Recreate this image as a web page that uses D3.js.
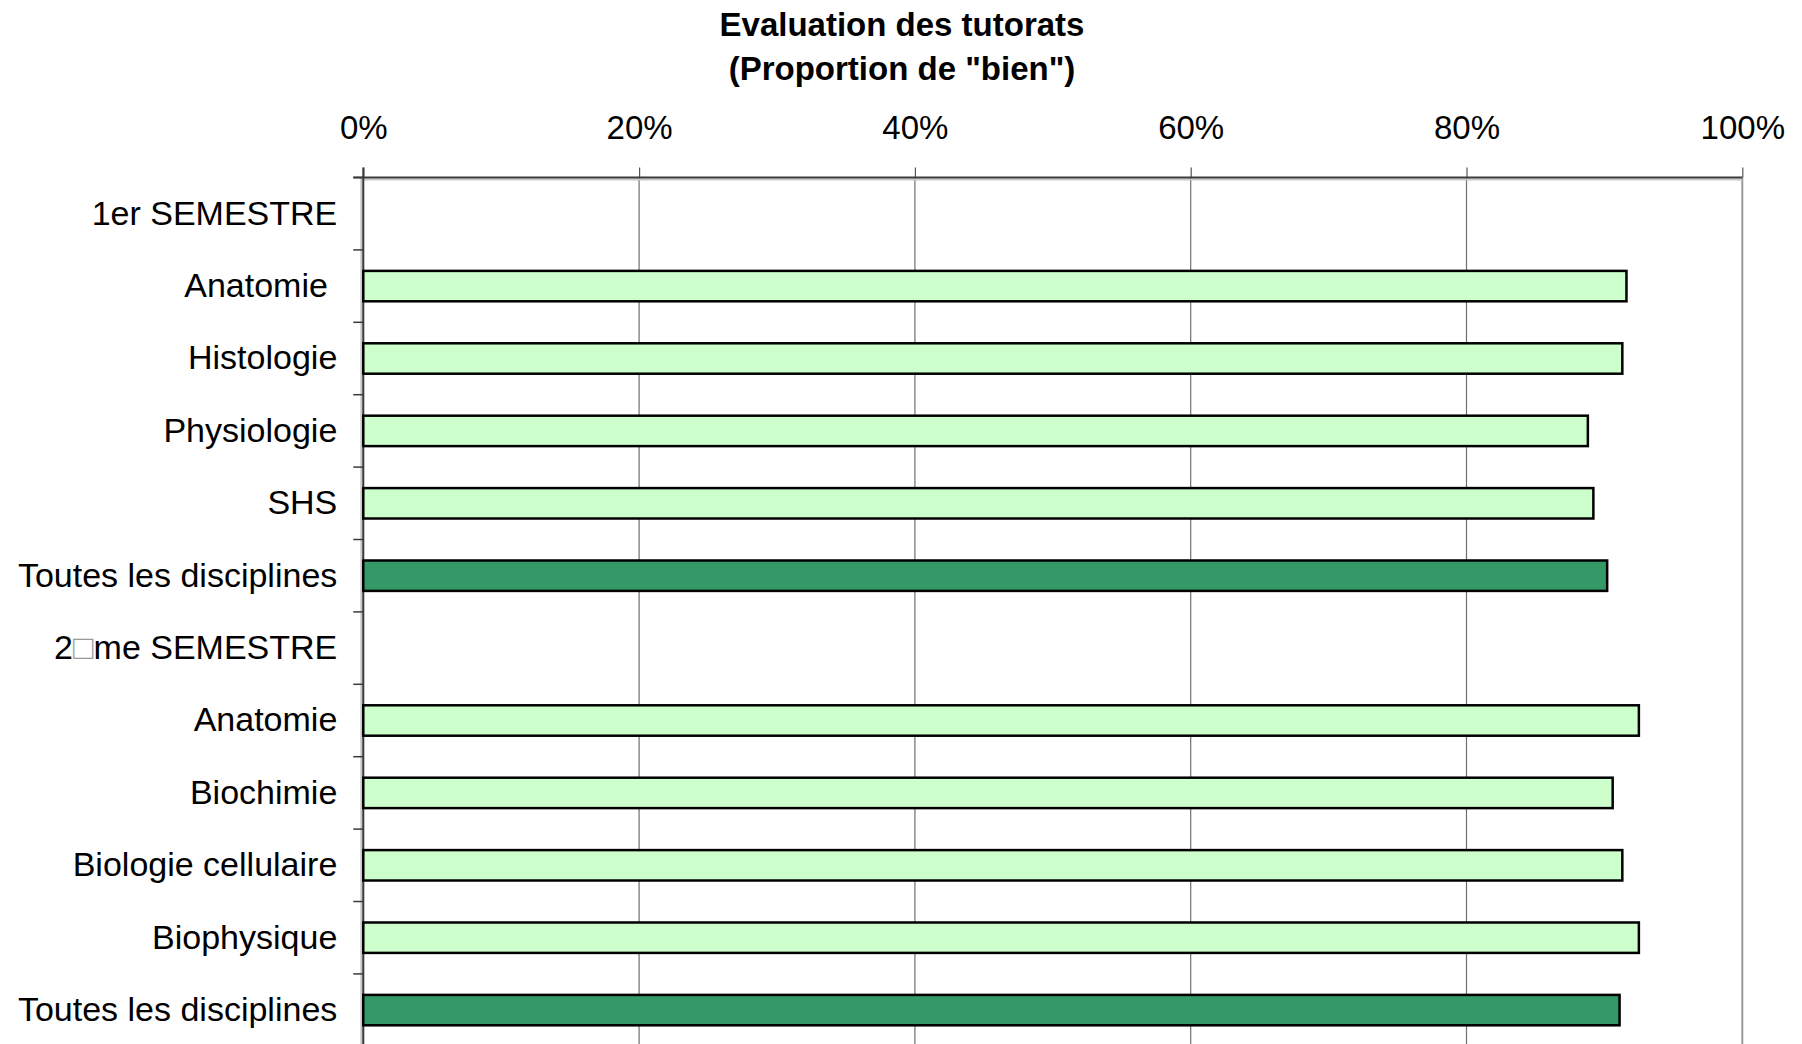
<!DOCTYPE html>
<html>
<head>
<meta charset="utf-8">
<script src="https://cdn.jsdelivr.net/npm/d3@7"></script>
<style>
  body { margin: 0; background: #fff; }
  text { font-family: "Liberation Sans", Arial, sans-serif; }
</style>
</head>
<body>
<svg width="1802" height="1044"></svg>
<script>
var svg = d3.select('svg');

// chart data
var categories = ['1er SEMESTRE', 'Anatomie ', 'Histologie', 'Physiologie', 'SHS',
  'Toutes les disciplines', '2\u25A1me SEMESTRE', 'Anatomie', 'Biochimie',
  'Biologie cellulaire', 'Biophysique', 'Toutes les disciplines'];
var values = [null, 0.916, 0.913, 0.888, 0.892, 0.902, null, 0.925, 0.906, 0.913, 0.925, 0.911];
var isTotal = [false, false, false, false, false, true, false, false, false, false, false, true];
var xTicks = [0, 0.2, 0.4, 0.6, 0.8, 1];
var titleLines = ['Evaluation des tutorats', '(Proportion de "bien")'];

var colors = {part: '#ccffcc', total: '#339966'};

var chartLeft = 363.3, chartRight = 1742.3, chartTop = 177.5, rowStep = 72.4;
var chartBottom = chartTop + rowStep * categories.length;

var xScale = d3.scaleLinear()
    .domain([0, 1])
    .range([chartLeft, chartRight]);

var yScale = d3.scaleBand()
    .domain(d3.range(categories.length))
    .range([chartTop, chartBottom])
    .paddingInner(0.58)
    .paddingOuter(0.29);

// title
svg.append('g')
    .selectAll('text')
    .data(titleLines)
    .enter()
    .append('text')
    .attr('x', 902)
    .attr('y', function(d, i) { return 36 + i * 44; })
    .attr('text-anchor', 'middle')
    .style('font-size', '33px')
    .style('font-weight', 'bold')
    .text(function(d) { return d; });

// vertical grid lines
svg.append('g')
    .selectAll('line')
    .data(xTicks)
    .enter()
    .append('line')
    .attr('x1', function(d) { return xScale(d); })
    .attr('x2', function(d) { return xScale(d); })
    .attr('y1', chartTop)
    .attr('y2', 1044)
    .attr('stroke', function(d) { return d === 1 ? '#999' : '#6f6f6f'; })
    .attr('stroke-width', function(d) { return d === 1 ? 2 : 1.2; });

// top axis
var xAxis = d3.axisTop(xScale)
    .tickValues(xTicks)
    .tickFormat(d3.format('.0%'))
    .tickSizeInner(10)
    .tickSizeOuter(0)
    .tickPadding(29);

var xAxisG = svg.append('g')
    .attr('transform', 'translate(0,' + chartTop + ')')
    .call(xAxis);
xAxisG.select('.domain').remove();
xAxisG.selectAll('.tick line').attr('stroke', '#555').attr('stroke-width', 1.2);
xAxisG.selectAll('.tick text')
    .attr('fill', '#000')
    .style('font-size', '33px')
    .style('font-family', '"Liberation Sans", Arial, sans-serif');

// axis lines (dark with light shadow)
svg.append('line')
    .attr('x1', chartLeft).attr('x2', chartRight)
    .attr('y1', chartTop + 2).attr('y2', chartTop + 2)
    .attr('stroke', '#c8c8c8').attr('stroke-width', 2);
svg.append('line')
    .attr('x1', chartLeft - 2).attr('x2', chartLeft - 2)
    .attr('y1', chartTop).attr('y2', 1044)
    .attr('stroke', '#c8c8c8').attr('stroke-width', 2);
svg.append('line')
    .attr('x1', chartLeft - 10).attr('x2', chartRight)
    .attr('y1', chartTop).attr('y2', chartTop)
    .attr('stroke', '#3a3a3a').attr('stroke-width', 2);
svg.append('line')
    .attr('x1', chartLeft).attr('x2', chartLeft)
    .attr('y1', chartTop - 10).attr('y2', 1044)
    .attr('stroke', '#3a3a3a').attr('stroke-width', 2);

// category tick marks between rows
var boundaries = d3.range(categories.length + 1).map(function(i) {
  return chartTop + i * yScale.step();
});
svg.append('g')
    .selectAll('line')
    .data(boundaries)
    .enter()
    .append('line')
    .attr('x1', chartLeft - 10)
    .attr('x2', chartLeft)
    .attr('y1', function(d) { return d; })
    .attr('y2', function(d) { return d; })
    .attr('stroke', '#3a3a3a')
    .attr('stroke-width', 1.5);

// category labels
var yAxis = d3.axisLeft(yScale)
    .tickSize(0)
    .tickPadding(26)
    .tickFormat(function(i) { return categories[i]; });

var yAxisG = svg.append('g')
    .attr('transform', 'translate(' + chartLeft + ',0)')
    .call(yAxis);
yAxisG.select('.domain').remove();
yAxisG.selectAll('.tick text')
    .attr('fill', '#000')
    .attr('dy', '0.32em')
    .style('font-size', '34px')
    .style('white-space', 'pre')
    .style('font-family', '"Liberation Sans", Arial, sans-serif')
    .each(function(i) {
      var label = categories[i];
      if (label.indexOf('\u25A1') < 0) return;
      var t = d3.select(this).text(null);
      label.split(/(\u25A1)/).forEach(function(part) {
        if (!part) return;
        t.append('tspan')
          .attr('fill', part === '\u25A1' ? '#9a9a9a' : '#000')
          .text(part);
      });
    });

// bars
var rows = categories.map(function(c, i) {
  return {i: i, value: values[i], total: isTotal[i]};
}).filter(function(d) { return d.value !== null; });

svg.append('g')
    .selectAll('rect')
    .data(rows)
    .enter()
    .append('rect')
    .attr('x', xScale(0))
    .attr('y', function(d) { return yScale(d.i); })
    .attr('width', function(d) { return xScale(d.value) - xScale(0); })
    .attr('height', yScale.bandwidth())
    .attr('fill', function(d) { return d.total ? colors.total : colors.part; })
    .attr('stroke', '#000')
    .attr('stroke-width', 2.5);
</script>
</body>
</html>
